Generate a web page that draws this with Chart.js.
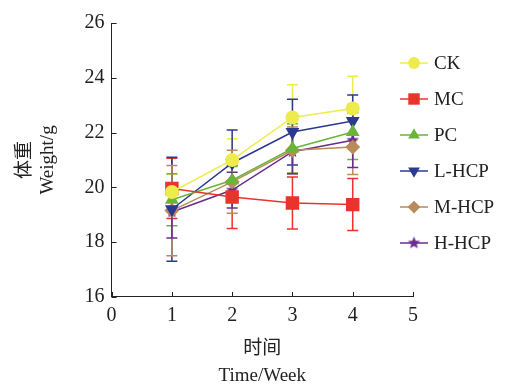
<!DOCTYPE html>
<html>
<head>
<meta charset="utf-8">
<script src="https://cdn.jsdelivr.net/npm/chart.js@4.4.0/dist/chart.umd.min.js"></script>
<style>
  html, body { margin: 0; padding: 0; background: #fff; }
  #wrap { width: 512px; height: 384px; }
</style>
</head>
<body>
<div id="wrap"><canvas id="chart"></canvas></div>
<script>
// ----- Data -----
const weeks = [1, 2, 3, 4];
const seriesNames = ["CK", "MC", "PC", "L-HCP", "M-HCP", "H-HCP"];
const ckMean = [19.83, 21.0, 22.55, 22.88];
const ckErr = [0.65, 0.77, 1.2, 1.18];
const mcMean = [19.96, 19.65, 19.43, 19.37];
const mcErr = [1.1, 1.15, 0.95, 0.95];
const pcMean = [19.55, 20.26, 21.42, 22.02];
const pcErr = [0.95, 0.5, 0.9, 1.0];
const lhcpMean = [19.2, 20.89, 22.02, 22.42];
const lhcpErr = [1.9, 1.2, 1.2, 0.95];
const mhcpMean = [19.15, 20.2, 21.35, 21.47];
const mhcpErr = [1.65, 1.15, 0.85, 1.0];
const hhcpMean = [19.1, 19.9, 21.3, 21.72];
const hhcpErr = [0.95, 0.65, 0.8, 1.0];
const xTicks = [0, 1, 2, 3, 4, 5];
const yTicks = [16, 18, 20, 22, 24, 26];

const colors = ["#eeec4c", "#e8342b", "#68b53a", "#2b3990", "#b98a5a", "#6b2c8f"];
const means = [ckMean, mcMean, pcMean, lhcpMean, mhcpMean, hhcpMean];
const errs = [ckErr, mcErr, pcErr, lhcpErr, mhcpErr, hhcpErr];

const FONT = "'Liberation Serif', 'Noto Sans CJK SC', serif";

// filled five-point star as a point image
function makeStar(color, r) {
  const c = document.createElement("canvas");
  const s = Math.ceil(r * 2 + 2);
  c.width = s; c.height = s;
  const g = c.getContext("2d");
  g.fillStyle = color;
  g.beginPath();
  for (let i = 0; i < 10; i++) {
    const rad = i % 2 === 0 ? r : r * 0.45;
    const a = -Math.PI / 2 + i * Math.PI / 5;
    const px = s / 2 + rad * Math.cos(a), py = s / 2 + rad * Math.sin(a);
    if (i === 0) g.moveTo(px, py); else g.lineTo(px, py);
  }
  g.closePath();
  g.fill();
  return c;
}

const markers = [
  { style: "circle", radius: 7, rotation: 0 },
  { style: "rect", radius: 9.5, rotation: 0 },
  { style: "triangle", radius: 8, rotation: 0 },
  { style: "triangle", radius: 8, rotation: 180 },
  { style: "rectRot", radius: 7.5, rotation: 0 },
  { style: makeStar(colors[5], 6.5), radius: 6.5, rotation: 0 },
];

const datasets = seriesNames.map((name, i) => ({
  label: name,
  data: weeks.map((w, j) => ({ x: w, y: means[i][j] })),
  borderColor: colors[i],
  backgroundColor: colors[i],
  borderWidth: 1.5,
  pointStyle: markers[i].style,
  pointRadius: markers[i].radius,
  pointRotation: markers[i].rotation,
  pointBorderWidth: 0,
  tension: 0,
}));

// error bars drawn under the lines
const errorBars = {
  id: "errorBars",
  beforeDatasetsDraw(chart) {
    const { ctx, scales: { x, y } } = chart;
    ctx.save();
    ctx.lineWidth = 1.5;
    seriesNames.forEach((_, i) => {
      ctx.strokeStyle = colors[i];
      weeks.forEach((w, j) => {
        const px = x.getPixelForValue(w);
        const top = y.getPixelForValue(means[i][j] + errs[i][j]);
        const bot = y.getPixelForValue(means[i][j] - errs[i][j]);
        ctx.beginPath();
        ctx.moveTo(px, top); ctx.lineTo(px, bot);
        ctx.moveTo(px - 5.5, top); ctx.lineTo(px + 5.5, top);
        ctx.moveTo(px - 5.5, bot); ctx.lineTo(px + 5.5, bot);
        ctx.stroke();
      });
    });
    ctx.restore();
  },
};

// inward tick marks on both axes
const innerTicks = {
  id: "innerTicks",
  afterDraw(chart) {
    const { ctx, chartArea, scales: { x, y } } = chart;
    ctx.save();
    ctx.strokeStyle = "#222";
    ctx.lineWidth = 1;
    ctx.beginPath();
    xTicks.forEach(t => {
      const px = Math.round(x.getPixelForValue(t)) + 0.5;
      ctx.moveTo(px, chartArea.bottom); ctx.lineTo(px, chartArea.bottom - 5);
    });
    yTicks.forEach(t => {
      const py = Math.round(y.getPixelForValue(t)) + 0.5;
      ctx.moveTo(chartArea.left, py); ctx.lineTo(chartArea.left + 5, py);
    });
    ctx.stroke();
    ctx.restore();
  },
};

// legend: short line with marker, then name
const sideLegend = {
  id: "sideLegend",
  afterDraw(chart) {
    const ctx = chart.ctx;
    ctx.save();
    ctx.font = "19px " + FONT;
    ctx.textBaseline = "middle";
    seriesNames.forEach((name, i) => {
      const cy = 63 + i * 36;
      ctx.strokeStyle = colors[i];
      ctx.lineWidth = 1.5;
      ctx.beginPath();
      ctx.moveTo(400, cy); ctx.lineTo(428, cy);
      ctx.stroke();
      ctx.fillStyle = colors[i];
      Chart.helpers.drawPoint(ctx, {
        pointStyle: markers[i].style,
        radius: markers[i].radius * 0.85,
        rotation: markers[i].rotation,
        borderWidth: 0,
      }, 414, cy);
      ctx.fillStyle = "#222";
      ctx.fillText(name, 434, cy + 1);
    });
    ctx.restore();
  },
};

new Chart(document.getElementById("chart"), {
  type: "line",
  data: { datasets },
  plugins: [errorBars, innerTicks, sideLegend],
  options: {
    responsive: true,
    maintainAspectRatio: false,
    animation: false,
    layout: { padding: { top: 23, right: 99, left: 14, bottom: -6 } },
    plugins: { legend: { display: false }, tooltip: { enabled: false } },
    scales: {
      x: {
        type: "linear",
        min: 0, max: 5,
        afterBuildTicks: s => { s.ticks = xTicks.map(v => ({ value: v })); },
        grid: { display: false, drawTicks: false },
        border: { display: true, color: "#222", width: 1 },
        ticks: { color: "#222", font: { family: FONT, size: 20, lineHeight: 1.0 }, padding: 9 },
        title: {
          display: true,
          text: ["时间", "Time/Week"],
          color: "#222",
          font: { family: FONT, size: 19, lineHeight: 1.45 },
          padding: { top: 0, bottom: 0 },
        },
      },
      y: {
        min: 16, max: 26,
        afterBuildTicks: s => { s.ticks = yTicks.map(v => ({ value: v })); },
        grid: { display: false, drawTicks: false },
        border: { display: true, color: "#222", width: 1 },
        ticks: { color: "#222", font: { family: FONT, size: 20 }, padding: 7 },
        title: {
          display: true,
          text: ["体重", "Weight/g"],
          color: "#222",
          font: { family: FONT, size: 19, lineHeight: 1.2 },
          padding: { top: 0, bottom: 18 },
        },
      },
    },
  },
});
</script>
</body>
</html>
